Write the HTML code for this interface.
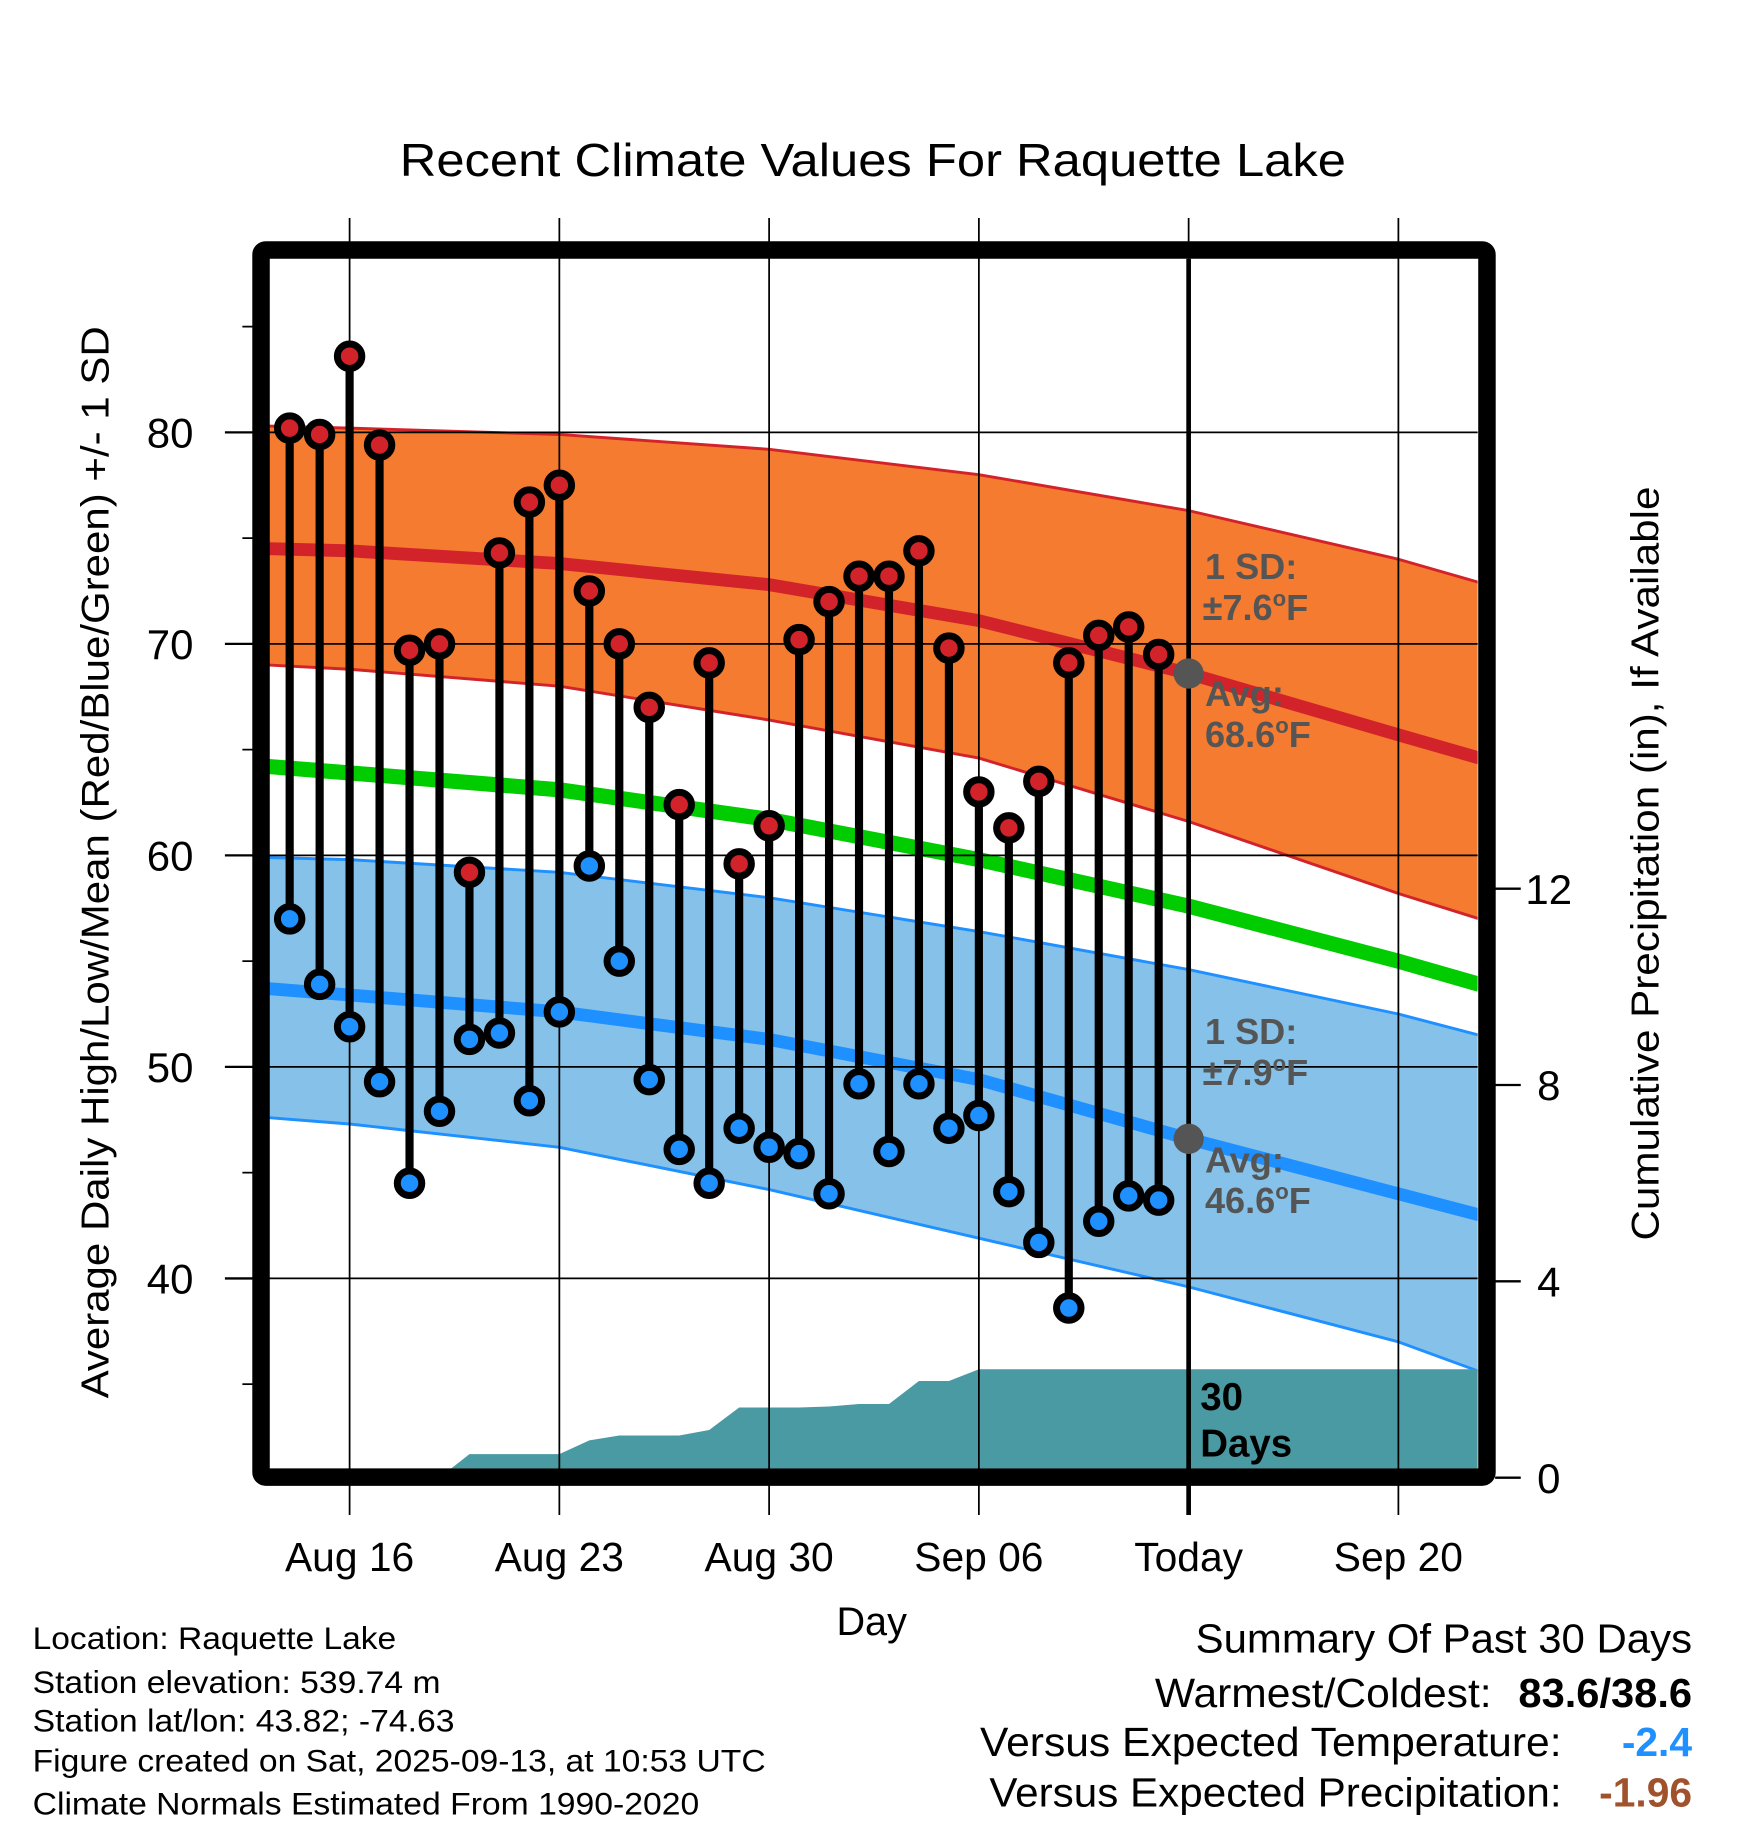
<!DOCTYPE html>
<html><head><meta charset="utf-8"><style>
html,body{margin:0;padding:0;background:#fff;}
svg{display:block;font-family:"Liberation Sans",sans-serif;}
</style></head><body>
<svg id="chart" width="1748" height="1828" viewBox="0 0 1500 1568.6" xmlns="http://www.w3.org/2000/svg">
<defs><clipPath id="plotclip"><rect x="231" y="222" width="1037" height="1038"/></clipPath></defs>
<rect x="0" y="0" width="1500" height="1569" fill="#fff"/>
<text x="343" y="151" font-size="40" textLength="812" lengthAdjust="spacingAndGlyphs">Recent Climate Values For Raquette Lake</text>
<g id="plot" clip-path="url(#plotclip)"></g>
<g id="over"></g>
<text transform="translate(93,740) rotate(-90)" font-size="33" text-anchor="middle" textLength="920" lengthAdjust="spacingAndGlyphs">Average Daily High/Low/Mean (Red/Blue/Green) +/- 1 SD</text>
<text transform="translate(1423,741) rotate(-90)" font-size="33" text-anchor="middle" textLength="647" lengthAdjust="spacingAndGlyphs">Cumulative Precipitation (in), If Available</text>
<text x="748" y="1403" font-size="34" text-anchor="middle">Day</text>
<g font-size="27" lengthAdjust="spacingAndGlyphs">
<text x="28" y="1415" textLength="312" lengthAdjust="spacingAndGlyphs">Location: Raquette Lake</text>
<text x="28" y="1453" textLength="350" lengthAdjust="spacingAndGlyphs">Station elevation: 539.74 m</text>
<text x="28" y="1486" textLength="362" lengthAdjust="spacingAndGlyphs">Station lat/lon: 43.82; -74.63</text>
<text x="28" y="1520" textLength="629" lengthAdjust="spacingAndGlyphs">Figure created on Sat, 2025-09-13, at 10:53 UTC</text>
<text x="28" y="1557" textLength="572" lengthAdjust="spacingAndGlyphs">Climate Normals Estimated From 1990-2020</text>
</g>
<g font-size="35">
<text x="1026" y="1418" textLength="426" lengthAdjust="spacingAndGlyphs">Summary Of Past 30 Days</text>
<text x="991" y="1465" textLength="289" lengthAdjust="spacingAndGlyphs">Warmest/Coldest:</text>
<text x="1303" y="1465" font-weight="bold" textLength="149" lengthAdjust="spacingAndGlyphs">83.6/38.6</text>
<text x="841" y="1507" textLength="499" lengthAdjust="spacingAndGlyphs">Versus Expected Temperature:</text>
<text x="1452" y="1507" text-anchor="end" font-weight="bold" fill="#1e90ff">-2.4</text>
<text x="849" y="1550" textLength="491" lengthAdjust="spacingAndGlyphs">Versus Expected Precipitation:</text>
<text x="1452" y="1550" text-anchor="end" font-weight="bold" fill="#a0522d">-1.96</text>
</g>
</svg>
<script>
// days are offsets from Aug 16
const normDays = [-2.7, 0, 7, 14, 21, 28, 35, 37.7];
const hiUpper = [80.3, 80.2, 79.9, 79.2, 78.0, 76.3, 74.0, 72.9];
const hiAvg   = [74.5, 74.4, 73.8, 72.8, 71.1, 68.6, 65.7, 64.6];
const hiLower = [69.0, 68.8, 68.0, 66.4, 64.6, 61.6, 58.2, 57.0];
const meanAvg = [64.2, 63.9, 63.1, 61.7, 59.8, 57.6, 55.0, 53.9];
const loUpper = [59.9, 59.8, 59.2, 58.0, 56.4, 54.6, 52.5, 51.5];
const loAvg   = [53.7, 53.4, 52.6, 51.3, 49.4, 46.6, 44.0, 43.0];
const loLower = [47.6, 47.3, 46.2, 44.2, 41.9, 39.6, 37.0, 35.6];
const obsStart = -2; // Aug 14
const highs = [80.2,79.9,83.6,79.4,69.7,70.0,59.2,74.3,76.7,77.5,72.5,70.0,67.0,62.4,69.1,59.6,61.4,70.2,72.0,73.2,73.2,74.4,69.8,63.0,61.3,63.5,69.1,70.4,70.8,69.5];
const lows  = [57.0,53.9,51.9,49.3,44.5,47.9,51.3,51.6,48.4,52.6,59.5,55.0,49.4,46.1,44.5,47.1,46.2,45.9,44.0,49.2,46.0,49.2,47.1,47.7,44.1,41.7,38.6,42.7,43.9,43.7];
const precip = [0,0,0,0,0,0,0.48,0.48,0.48,0.48,0.76,0.86,0.86,0.86,0.97,1.43,1.43,1.43,1.45,1.5,1.5,1.97,1.97,2.21,2.21,2.21,2.21,2.21,2.21,2.21,2.21];
const tempTicks = [40,50,60,70,80];
const tempMinor = [35,45,55,65,75,85];
const precipTicks = [0,4,8,12];
const xTickDays = [0,7,14,21,28,35];
const xTickLabels = ["Aug 16","Aug 23","Aug 30","Sep 06","Today","Sep 20"];

const NS="http://www.w3.org/2000/svg";
const X = d => 300 + d*25.714;
const Y = t => 371 + (80-t)*18.15;
const P = p => 1268 - p*42.12;
const plot=document.getElementById('plot'), over=document.getElementById('over');
function mk(tag, attrs, parent){const e=document.createElementNS(NS,tag);for(const k in attrs)e.setAttribute(k,attrs[k]);parent.appendChild(e);return e;}
const pts=(days,vals)=>days.map((d,i)=>X(d)+','+Y(vals[i]));
function band(up,lo,fill,name){
  const p=pts(normDays,up).concat(pts(normDays,lo).reverse());
  const e=mk('polygon',{points:p.join(' '),fill:fill},plot);
  
  
}
function line(vals,color,w,name){
  const e=mk('polyline',{points:pts(normDays,vals).join(' '),fill:'none',stroke:color,'stroke-width':w},plot);
  
  
}
band(hiUpper,hiLower,'#f47b2f','high-sd-band');
line(hiUpper,'#d2232a',2.5,'high-upper-line');
line(hiLower,'#d2232a',2.5,'high-lower-line');
band(loUpper,loLower,'#85c1e8','low-sd-band');
line(loUpper,'#1e90ff',2.5,'low-upper-line');
line(loLower,'#1e90ff',2.5,'low-lower-line');
line(hiAvg,'#d2232a',11,'high-avg-line');
line(meanAvg,'#00cc00',13,'mean-avg-line');
line(loAvg,'#1e90ff',11,'low-avg-line');
{
  let p=[X(obsStart)+','+1262];
  precip.forEach((v,i)=>p.push(X(obsStart+i)+','+P(v)));
  p.push(1270+','+P(precip[precip.length-1]));
  p.push(1270+','+1262);
  const e=mk('polygon',{points:p.join(' '),fill:'#4a9aa4'},plot);
  
  
}
tempTicks.forEach(t=>{
  const e=mk('line',{x1:231,x2:1268,y1:Y(t),y2:Y(t),stroke:'#000','stroke-width':1.5},over);
  
  
  const tk=mk('line',{x1:193,x2:217,y1:Y(t),y2:Y(t),stroke:'#000','stroke-width':2},over);
  
  
  const lb=mk('text',{x:166,y:Y(t)+13,'font-size':36,'text-anchor':'end'},over);
  lb.textContent=t;
  
  
});
tempMinor.forEach(t=>{
  const e=mk('line',{x1:208,x2:217,y1:Y(t),y2:Y(t),stroke:'#000','stroke-width':1.5},over);
  
  
});
xTickDays.forEach((d,i)=>{
  const today=xTickLabels[i]==='Today';
  const e=mk('line',{x1:X(d),x2:X(d),y1:today?222:187,y2:1300,stroke:'#000','stroke-width':today?4:1.5},over);
  
  
  if(today){const e2=mk('line',{x1:X(d),x2:X(d),y1:187,y2:222,stroke:'#000','stroke-width':1.5},over);
    
    }
  const lb=mk('text',{x:X(d),y:1348,'font-size':35,'text-anchor':'middle'},over);
  lb.textContent=xTickLabels[i];
  
  
});
precipTicks.forEach(p=>{
  const tk=mk('line',{x1:1283,x2:1305,y1:P(p),y2:P(p),stroke:'#000','stroke-width':2},over);
  
  
  const lb=mk('text',{x:1329,y:P(p)+13,'font-size':36,'text-anchor':'middle'},over);
  lb.textContent=p;
  
  
});
highs.forEach((h,i)=>{
  const x=X(obsStart+i);
  const s=mk('line',{x1:x,x2:x,y1:Y(h),y2:Y(lows[i]),stroke:'#000','stroke-width':7},over);
  
  
});
highs.forEach((h,i)=>{
  const x=X(obsStart+i);
  const a=mk('circle',{cx:x,cy:Y(h),r:10.5,fill:'#d2232a',stroke:'#000','stroke-width':6},over);
  
  
  const b=mk('circle',{cx:x,cy:Y(lows[i]),r:10.5,fill:'#1e90ff',stroke:'#000','stroke-width':6},over);
  
  
});
[[hiAvg,'high'],[loAvg,'low']].forEach(([arr,n])=>{
  const c=mk('circle',{cx:X(28),cy:Y(arr[5]),r:13,fill:'#555'},over);
  
  
});
function ann(x,y,txt,name,fs,fill){
  const t=mk('text',{x:x,y:y,'font-size':fs,'font-weight':'bold',fill:fill},over);
  t.innerHTML=txt;
  
  
}
ann(1034,497,'1 SD:','high-sd-label',31,'#555');
ann(1032,532,'±7.6<tspan font-size="19" dy="-12">o</tspan><tspan dy="12">F</tspan>','high-sd-value',31,'#555');
ann(1034,606,'Avg:','high-avg-label',31,'#555');
ann(1034,641,'68.6<tspan font-size="19" dy="-12">o</tspan><tspan dy="12">F</tspan>','high-avg-value',31,'#555');
ann(1034,896,'1 SD:','low-sd-label',31,'#555');
ann(1032,931,'±7.9<tspan font-size="19" dy="-12">o</tspan><tspan dy="12">F</tspan>','low-sd-value',31,'#555');
ann(1034,1006,'Avg:','low-avg-label',31,'#555');
ann(1034,1041,'46.6<tspan font-size="19" dy="-12">o</tspan><tspan dy="12">F</tspan>','low-avg-value',31,'#555');
ann(1030,1210,'30','precip-days-label',33,'#000');
ann(1030,1250,'Days','precip-days-label2',33,'#000');
const fr=mk('rect',{x:224,y:214.5,width:1052,height:1053,fill:'none',stroke:'#000','stroke-width':15,rx:4},over);


</script>
</body></html>
